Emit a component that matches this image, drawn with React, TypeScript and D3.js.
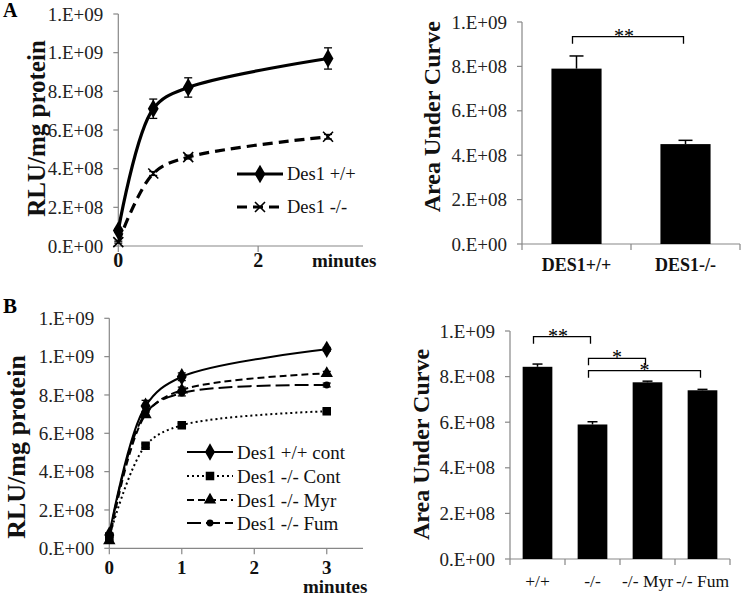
import React from "react";
import * as d3 from "d3";

// ---------- DATA ----------
const timesA = [0, 0.5, 1, 3];
const wtA = [0.08e9, 0.71e9, 0.82e9, 0.97e9];
const wtAErr = [0.01e9, 0.05e9, 0.05e9, 0.055e9];
const koA = [0.02e9, 0.375e9, 0.46e9, 0.565e9];
const koAErr = [0.005e9, 0.01e9, 0.01e9, 0.012e9];
const seriesNamesA = ["Des1 +/+", "Des1 -/-"];

const aucCatsA = ["DES1+/+", "DES1-/-"];
const aucA = [0.79e9, 0.45e9];
const aucAErr = [0.057e9, 0.017e9];

const timesB = [0, 0.5, 1, 3];
const wtContB = [0.07e9, 0.742e9, 0.895e9, 1.038e9];
const wtContBErr = [0.01e9, 0.03e9, 0.02e9, 0.01e9];
const koContB = [0.06e9, 0.535e9, 0.642e9, 0.715e9];
const koContBErr = [0.005e9, 0.01e9, 0.01e9, 0.01e9];
const koMyrB = [0.04e9, 0.697e9, 0.826e9, 0.913e9];
const koMyrBErr = [0.005e9, 0.01e9, 0.015e9, 0.01e9];
const koFumB = [0.06e9, 0.705e9, 0.81e9, 0.852e9];
const koFumBErr = [0.005e9, 0.01e9, 0.015e9, 0.01e9];
const seriesNamesB = ["Des1 +/+ cont", "Des1 -/- Cont", "Des1 -/- Myr", "Des1 -/- Fum"];

const aucCatsB = ["+/+", "-/-", "-/- Myr", "-/- Fum"];
const aucB = [0.843e9, 0.59e9, 0.775e9, 0.74e9];
const aucBErr = [0.012e9, 0.012e9, 0.005e9, 0.004e9];

const yTicksLine = [0, 0.2e9, 0.4e9, 0.6e9, 0.8e9, 1.0e9, 1.2e9];
const yTicksBar = [0, 0.2e9, 0.4e9, 0.6e9, 0.8e9, 1.0e9];
const xTicksA = [0, 2];
const xTicksB = [0, 1, 2, 3];

// significance brackets
const sigA = [{ from: 0, to: 1, level: 0.934e9, label: "**" }];
const sigB = [
  { from: 0, to: 1, level: 0.975e9, label: "**" },
  { from: 1, to: 2, level: 0.88e9, label: "*" },
  { from: 1, to: 3, level: 0.826e9, label: "*" },
];

// ---------- STYLE ----------
const FONT = "'Liberation Serif', 'Times New Roman', Times, serif";
const AXIS = "#878787";
const TXT = "#222";

function fmtE(v: number): string {
  if (v === 0) return "0.E+00";
  const e = Math.floor(Math.log10(v) + 1e-9);
  const m = Math.round(v / Math.pow(10, e));
  return `${m}.E+${String(e).padStart(2, "0")}`;
}

function marker(kind: string, x: number, y: number, size: number, key?: string) {
  if (kind === "x") {
    const s = size / 2;
    return (
      <path key={key} d={`M${x - s},${y - s}L${x + s},${y + s}M${x - s},${y + s}L${x + s},${y - s}`}
        stroke="#000" strokeWidth={1.6} fill="none" />
    );
  }
  const type = kind === "diamond" ? d3.symbolDiamond : kind === "square" ? d3.symbolSquare
    : kind === "triangle" ? d3.symbolTriangle : d3.symbolCircle;
  const p = d3.symbol().type(type).size(size * size * (kind === "diamond" ? 0.6 : kind === "triangle" ? 0.55 : kind === "circle" ? 0.75 : 0.9))();
  return <path key={key} d={p as string} transform={`translate(${x},${y})`} fill="#000" />;
}

type Series = { vals: number[]; err: number[]; dash: string; width: number; mk: string; mkSize: number };

function LinePanel(props: {
  x0: number; x1: number; yTop: number; yBot: number; times: number[]; series: Series[];
  xTicks: number[]; names: string[]; legX: number; legY: number[]; legFont: number;
  minutesX: number; minutesY: number; tickLabelY: number; tickFont: number;
}) {
  const { x0, x1, yTop, yBot, times, series, xTicks, names, legX, legY, legFont } = props;
  const x = d3.scaleLinear().domain([0, 3.5]).range([x0, x1]);
  const y = d3.scaleLinear().domain([0, 1.2e9]).range([yBot, yTop]);
  const line = d3.line<number>().x((_, i) => x(times[i])).y((d) => y(d)).curve(d3.curveCatmullRom.alpha(0.5));
  return (
    <g>
      <line x1={x0} x2={x0} y1={yTop} y2={yBot} stroke={AXIS} strokeWidth={1.2} />
      <line x1={x0} x2={x1} y1={yBot} y2={yBot} stroke={AXIS} strokeWidth={1.2} />
      {yTicksLine.map((t) => (
        <g key={t}>
          <line x1={x0 - 5} x2={x0} y1={y(t)} y2={y(t)} stroke={AXIS} strokeWidth={1.2} />
          <text x={x0 - 15} y={y(t)} dy="0.35em" textAnchor="end" fontSize={19} fill={TXT} fontFamily={FONT}>{fmtE(t)}</text>
        </g>
      ))}
      {xTicks.map((t) => (
        <g key={t}>
          <line x1={x(t)} x2={x(t)} y1={yBot} y2={yBot + 6} stroke={AXIS} strokeWidth={1.2} />
          <text x={x(t)} y={props.tickLabelY} textAnchor="middle" fontSize={props.tickFont} fontWeight="bold" fill="#111" fontFamily={FONT}>{t}</text>
        </g>
      ))}
      <text x={props.minutesX} y={props.minutesY} fontSize={19} fontWeight="bold" fill="#111" fontFamily={FONT}>minutes</text>
      {series.map((s, si) => (
        <g key={si}>
          <path d={line(s.vals) as string} fill="none" stroke="#000" strokeWidth={s.width} strokeDasharray={s.dash} />
          {s.vals.map((v, i) => (
            <g key={i}>
              <line x1={x(times[i])} x2={x(times[i])} y1={y(v - s.err[i])} y2={y(v + s.err[i])} stroke="#000" strokeWidth={1.3} />
              <line x1={x(times[i]) - 4} x2={x(times[i]) + 4} y1={y(v - s.err[i])} y2={y(v - s.err[i])} stroke="#000" strokeWidth={1.3} />
              <line x1={x(times[i]) - 4} x2={x(times[i]) + 4} y1={y(v + s.err[i])} y2={y(v + s.err[i])} stroke="#000" strokeWidth={1.3} />
              {marker(s.mk, x(times[i]), y(v), s.mkSize)}
            </g>
          ))}
        </g>
      ))}
      {names.map((n, i) => (
        <g key={n}>
          <line x1={legX} x2={legX + 46} y1={legY[i]} y2={legY[i]} stroke="#000" strokeWidth={series[i].width} strokeDasharray={series[i].dash} />
          {marker(series[i].mk, legX + 23, legY[i], series[i].mkSize)}
          <text x={legX + 50} y={legY[i]} dy="0.35em" fontSize={legFont} fill="#111" fontFamily={FONT}>{n}</text>
        </g>
      ))}
    </g>
  );
}

function BarPanel(props: {
  x0: number; x1: number; yTop: number; yBot: number; cats: string[]; vals: number[]; err: number[];
  sig: { from: number; to: number; level: number; label: string }[]; catBold: boolean; catFont: number;
  catY: number; barFrac: number; cap: number;
}) {
  const { x0, x1, yTop, yBot, cats, vals, err, sig } = props;
  const x = d3.scaleBand<string>().domain(cats).range([x0, x1]).padding(0);
  const y = d3.scaleLinear().domain([0, 1e9]).range([yBot, yTop]);
  const bw = x.bandwidth() * props.barFrac;
  const cx = (i: number) => (x(cats[i]) as number) + x.bandwidth() / 2;
  return (
    <g>
      <line x1={x0} x2={x0} y1={yTop} y2={yBot} stroke={AXIS} strokeWidth={1.2} />
      <line x1={x0} x2={x1} y1={yBot} y2={yBot} stroke={AXIS} strokeWidth={1.2} />
      {yTicksBar.map((t) => (
        <g key={t}>
          <line x1={x0 - 5} x2={x0} y1={y(t)} y2={y(t)} stroke={AXIS} strokeWidth={1.2} />
          <text x={x0 - 15} y={y(t)} dy="0.35em" textAnchor="end" fontSize={19} fill={TXT} fontFamily={FONT}>{fmtE(t)}</text>
        </g>
      ))}
      {[...cats.map((c) => x(c) as number), x1].map((p, i) => (
        <line key={i} x1={p} x2={p} y1={yBot} y2={yBot + 6} stroke={AXIS} strokeWidth={1.2} />
      ))}
      {cats.map((c, i) => (
        <g key={c}>
          <rect x={cx(i) - bw / 2} y={y(vals[i])} width={bw} height={yBot - y(vals[i])} fill="#000" />
          <line x1={cx(i)} x2={cx(i)} y1={y(vals[i])} y2={y(vals[i] + err[i])} stroke="#000" strokeWidth={1.5} />
          <line x1={cx(i) - props.cap} x2={cx(i) + props.cap} y1={y(vals[i] + err[i])} y2={y(vals[i] + err[i])} stroke="#000" strokeWidth={1.5} />
          <text x={cx(i)} y={props.catY} textAnchor="middle" fontSize={props.catFont} fontWeight={props.catBold ? "bold" : "normal"} fill="#111" fontFamily={FONT}>{c}</text>
        </g>
      ))}
      {sig.map((s, i) => {
        const a = cx(s.from) - 4;
        const b = cx(s.to) - 2;
        const yy = y(s.level);
        return (
          <g key={i}>
            <path d={`M${a},${yy + 7}V${yy}H${b}V${yy + 7}`} fill="none" stroke="#000" strokeWidth={1.3} />
            <text x={s.label.length > 1 ? (a + b) / 2 - 4 : (a + b) / 2} y={yy + 6} textAnchor="middle" fontSize={20} fill="#000" fontFamily={FONT}>{s.label}</text>
          </g>
        );
      })}
    </g>
  );
}

export default function App() {
  const seriesA: Series[] = [
    { vals: wtA, err: wtAErr, dash: "", width: 3.2, mk: "diamond", mkSize: 13 },
    { vals: koA, err: koAErr, dash: "10,6", width: 3.2, mk: "x", mkSize: 10 },
  ];
  const seriesB: Series[] = [
    { vals: wtContB, err: wtContBErr, dash: "", width: 2, mk: "diamond", mkSize: 12 },
    { vals: koContB, err: koContBErr, dash: "2,3", width: 2, mk: "square", mkSize: 9 },
    { vals: koMyrB, err: koMyrBErr, dash: "7,4", width: 2, mk: "triangle", mkSize: 11 },
    { vals: koFumB, err: koFumBErr, dash: "14,5", width: 2, mk: "circle", mkSize: 7 },
  ];
  return (
    <svg width={742} height={596} style={{ position: "absolute", left: 0, top: 0, background: "#fff" }}
      fontFamily={FONT}>
      <rect width={742} height={596} fill="#fff" />
      <text x={3} y={17} fontSize={20} fontWeight="bold">A</text>
      <text x={3} y={313} fontSize={21} fontWeight="bold">B</text>

      <text transform="translate(36,128.5) rotate(-90)" textAnchor="middle" dy="0.35em" fontSize={25} fontWeight="bold" fill="#111">RLU/mg protein</text>
      <text transform="translate(432,116.7) rotate(-90)" textAnchor="middle" dy="0.35em" fontSize={24} fontWeight="bold" fill="#111">Area Under Curve</text>
      <text transform="translate(16,447) rotate(-90)" textAnchor="middle" dy="0.35em" fontSize={26} fontWeight="bold" fill="#111">RLU/mg protein</text>
      <text transform="translate(421,444.5) rotate(-90)" textAnchor="middle" dy="0.35em" fontSize={24} fontWeight="bold" fill="#111">Area Under Curve</text>

      <LinePanel x0={118.3} x1={363} yTop={14} yBot={246} times={timesA} series={seriesA} xTicks={xTicksA}
        names={seriesNamesA} legX={237} legY={[174, 207]} legFont={18.5}
        minutesX={312} minutesY={267} tickLabelY={267} tickFont={20} />
      <BarPanel x0={522} x1={740} yTop={22} yBot={244} cats={aucCatsA} vals={aucA} err={aucAErr} sig={sigA}
        catBold={true} catFont={18} catY={271} barFrac={0.46} cap={7} />

      <LinePanel x0={109.3} x1={363} yTop={318.3} yBot={548.3} times={timesB} series={seriesB} xTicks={xTicksB}
        names={seriesNamesB} legX={187} legY={[452, 476, 500, 523]} legFont={19}
        minutesX={303} minutesY={593} tickLabelY={574} tickFont={19} />
      <BarPanel x0={510} x1={730} yTop={331} yBot={559} cats={aucCatsB} vals={aucB} err={aucBErr} sig={sigB}
        catBold={false} catFont={17.5} catY={587} barFrac={0.54} cap={5} />
    </svg>
  );
}
